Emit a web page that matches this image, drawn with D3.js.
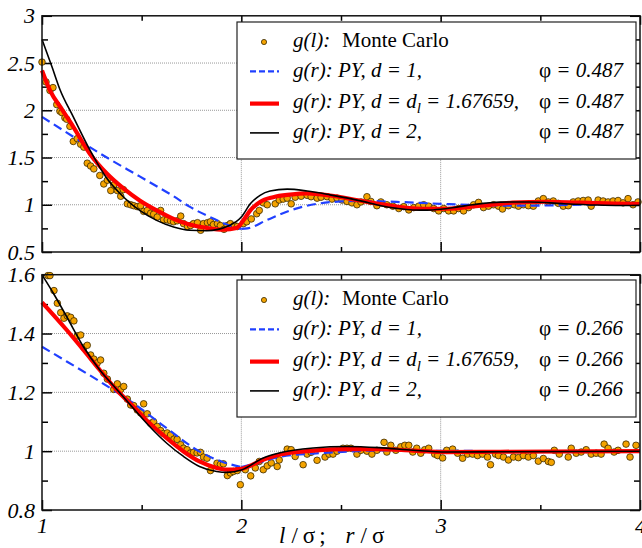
<!DOCTYPE html>
<html>
<head>
<meta charset="utf-8">
<script src="https://cdn.jsdelivr.net/npm/d3@7"></script>
<style>
  body { margin: 0; background: #fff; }
  svg { display: block; }
  svg text { font-family: "Liberation Serif", Tinos, "Times New Roman", "DejaVu Serif", serif; }
</style>
</head>
<body>
<script>
// ticks
var xMajor = [1, 2, 3, 4];
var xMinor = [1.5, 2.5, 3.5];
var yTopMajor = [0.5, 1, 1.5, 2, 2.5, 3];
var yTopMinor = [0.75, 1.25, 1.75, 2.25, 2.75];
var yBotMajor = [0.8, 1, 1.2, 1.4, 1.6];
var yBotMinor = [0.9, 1.1, 1.3, 1.5];
var xGrid = [2, 3];

// legend texts
var phiTop = "0.487";
var phiBot = "0.266";

// ---- top panel, phi = 0.487 ----
var mcTop = [[1.0,2.51],[1.02,2.30],[1.04,2.21],[1.055,2.24],[1.074,2.06],[1.09,1.99],[1.10,1.975],[1.115,1.92],
  [1.124,1.905],[1.14,1.83],[1.157,1.67],[1.177,1.70],[1.194,1.64],[1.21,1.61],[1.227,1.44],[1.244,1.41],
  [1.26,1.38],[1.29,1.31],[1.31,1.22],[1.328,1.26],[1.345,1.15],[1.36,1.21],[1.378,1.15],[1.395,1.09],
  [1.408,1.16],[1.428,1.01],[1.445,1.00],[1.46,0.99],[1.478,0.98],[1.495,0.99],[1.51,0.93],[1.528,0.94],
  [1.545,0.91],[1.56,0.90],[1.578,0.87],[1.595,0.94],[1.61,0.84],[1.628,0.84],[1.645,0.83],[1.66,0.82],
  [1.678,0.83],[1.696,0.88],[1.71,0.80],[1.73,0.77],[1.745,0.78],[1.76,0.80],[1.78,0.81],[1.796,0.73],
  [1.81,0.80],[1.83,0.81],[1.845,0.82],[1.86,0.79],[1.88,0.80],[1.895,0.78],[1.913,0.74],[1.93,0.78],
  [1.945,0.80],[1.965,0.78],[1.98,0.77],[2.01,0.80],[2.027,0.82],[2.05,0.85],[2.077,0.905],[2.09,0.94],
  [2.11,1.02],[2.13,1.0],[2.17,1.01],[2.19,1.05],[2.21,1.06],[2.23,1.07],[2.25,1.01],[2.27,1.08],
  [2.30,1.09],[2.33,1.10],[2.35,1.085],[2.38,1.07],[2.40,1.08],[2.43,1.085],[2.455,1.06],[2.48,1.07],
  [2.505,1.05],[2.53,1.035],[2.555,1.02],[2.58,1.0],[2.60,1.03],[2.63,1.085],[2.65,1.035],[2.68,0.99],
  [2.70,1.03],[2.73,1.0],[2.76,0.985],[2.79,0.96],[2.815,0.98],[2.84,0.945],[2.865,0.97],[2.89,0.985],
  [2.915,1.0],[2.94,0.985],[2.965,0.96],[2.99,0.935],[3.015,0.96],[3.04,0.935],[3.065,0.935],[3.09,0.96],
  [3.115,0.935],[3.14,0.97],[3.165,1.0],[3.19,1.025],[3.215,0.97],[3.24,0.985],[3.265,1.0],[3.29,0.985],
  [3.31,0.955],[3.34,0.99],[3.37,1.0],[3.39,0.985],[3.415,1.0],[3.44,0.99],[3.465,0.985],[3.49,1.04],
  [3.515,1.065],[3.54,1.03],[3.565,1.04],[3.59,1.015],[3.615,0.985],[3.64,0.99],[3.665,1.03],[3.69,1.04],
  [3.715,1.045],[3.74,1.05],[3.755,0.985],[3.79,1.05],[3.815,1.04],[3.84,1.03],[3.865,1.04],[3.89,1.045],
  [3.915,1.02],[3.94,1.065],[3.965,1.0],[3.99,1.03]];

var blueTopIn = [[1,1.93],[1.157,1.72],[1.325,1.50],[1.49,1.30],[1.58,1.19],[1.66,1.09],[1.74,0.98],
  [1.843,0.87],[1.96,0.765],[2.0,0.745]];
var blueTopOut = [[2.0,0.745],[2.03,0.75],[2.13,0.84],[2.245,0.94],[2.38,1.01],[2.5,1.035],[2.61,1.04],
  [2.78,1.03],[3.0,1.01],[3.2,0.995],[3.45,0.99],[3.7,1.0],[4.0,1.0]];
var redTop = [[1,2.42],[1.04,2.21],[1.1,2.01],[1.157,1.825],[1.24,1.54],[1.325,1.33],[1.41,1.17],[1.49,1.045],
  [1.575,0.94],[1.66,0.85],[1.74,0.79],[1.826,0.755],[1.91,0.737],[1.977,0.755],[2.01,0.835],[2.045,0.94],
  [2.094,1.03],[2.16,1.08],[2.244,1.107],[2.33,1.12],[2.445,1.098],[2.61,1.038],[2.78,0.98],[2.9,0.958],
  [3.03,0.958],[3.2,0.99],[3.36,1.022],[3.53,1.032],[3.7,1.022],[3.87,1.012],[4.0,1.008]];
var blackTop = [[1,2.75],[1.05,2.46],[1.09,2.22],[1.157,1.93],[1.24,1.58],[1.325,1.28],[1.41,1.08],[1.49,0.94],
  [1.575,0.835],[1.66,0.765],[1.74,0.73],[1.826,0.725],[1.94,0.78],[2.0,0.87],[2.045,1.01],[2.094,1.10],
  [2.144,1.145],[2.23,1.165],[2.33,1.145],[2.445,1.105],[2.61,1.036],[2.7,0.99],[2.78,0.962],[2.86,0.945],
  [2.93,0.943],[3.0,0.952],[3.08,0.975],[3.16,1.0],[3.3,1.028],[3.45,1.03],[3.61,1.012],[3.78,0.997],
  [3.9,0.992],[4.0,0.993]];

// ---- bottom panel, phi = 0.266 ----
var mcBot = [[1.03,1.597],[1.04,1.597],[1.06,1.546],[1.077,1.503],[1.094,1.471],[1.11,1.452],[1.127,1.46],
  [1.144,1.455],[1.16,1.443],[1.177,1.392],[1.194,1.395],[1.21,1.353],[1.227,1.36],[1.244,1.327],[1.26,1.313],
  [1.277,1.30],[1.294,1.31],[1.31,1.265],[1.328,1.245],[1.36,1.21],[1.378,1.229],[1.395,1.21],[1.41,1.22],
  [1.428,1.177],[1.445,1.157],[1.46,1.155],[1.478,1.14],[1.495,1.13],[1.51,1.161],[1.528,1.127],[1.545,1.095],
  [1.56,1.10],[1.578,1.084],[1.595,1.07],[1.61,1.06],[1.628,1.062],[1.645,1.055],[1.662,1.041],[1.678,1.04],
  [1.696,1.022],[1.71,1.01],[1.728,1.005],[1.745,0.994],[1.76,0.996],[1.778,0.994],[1.795,0.996],[1.81,0.98],
  [1.828,0.976],[1.845,0.934],[1.878,0.959],[1.895,0.955],[1.91,0.957],[1.93,0.917],[1.945,0.926],[1.96,0.931],
  [1.98,0.934],[1.995,0.886],[2.02,0.937],[2.047,0.916],[2.07,0.943],[2.09,0.965],[2.11,0.937],[2.13,0.95],
  [2.15,0.96],[2.18,0.948],[2.19,0.97],[2.23,1.007],[2.25,1.005],[2.27,0.982],[2.31,0.954],[2.33,0.99],
  [2.35,0.996],[2.38,0.969],[2.42,0.98],[2.44,0.99],[2.46,0.99],[2.48,1.0],[2.51,1.01],[2.53,1.01],
  [2.55,1.01],[2.58,0.99],[2.60,1.003],[2.63,1.0],[2.655,0.99],[2.68,1.003],[2.716,1.03],[2.73,0.997],
  [2.75,1.02],[2.775,1.003],[2.80,1.015],[2.82,1.02],[2.84,1.02],[2.86,0.997],[2.88,1.01],[2.90,0.993],
  [2.92,1.005],[2.94,1.01],[2.97,0.99],[2.985,0.985],[3.01,0.977],[3.03,1.003],[3.06,1.007],[3.085,0.993],
  [3.11,0.976],[3.135,0.99],[3.16,0.99],[3.185,0.985],[3.21,0.99],[3.235,0.98],[3.25,0.954],[3.275,0.99],
  [3.29,0.985],[3.315,0.98],[3.34,0.97],[3.365,0.98],[3.39,0.978],[3.415,0.985],[3.44,0.98],[3.465,0.985],
  [3.49,0.966],[3.515,0.975],[3.54,0.965],[3.555,0.962],[3.57,1.003],[3.595,0.99],[3.64,0.98],[3.655,1.01],
  [3.68,0.993],[3.705,0.997],[3.73,1.005],[3.755,0.99],[3.78,0.993],[3.805,0.99],[3.82,1.024],[3.84,1.01],
  [3.87,0.997],[3.89,1.003],[3.93,1.024],[3.95,0.98],[3.98,1.02]];

var blueBotIn = [[1,1.355],[1.124,1.305],[1.29,1.237],[1.458,1.163],[1.626,1.078],[1.79,0.999],[1.9,0.965],[2.0,0.946]];
var blueBotOut = [[2.0,0.946],[2.11,0.965],[2.19,0.98],[2.36,0.992],[2.53,0.998],[2.69,1.003],[3.0,1.001],[4,1.0]];
var redBot = [[1,1.506],[1.124,1.412],[1.208,1.344],[1.29,1.276],[1.375,1.208],[1.458,1.152],[1.54,1.095],
  [1.626,1.044],[1.71,0.999],[1.79,0.965],[1.876,0.943],[1.93,0.937],[2.0,0.94],[2.11,0.971],[2.19,0.988],
  [2.36,1.002],[2.53,1.007],[2.69,1.007],[2.86,1.002],[3.03,0.997],[3.3,0.998],[4,1.0]];
var blackBot = [[1,1.6],[1.057,1.537],[1.124,1.457],[1.208,1.355],[1.29,1.276],[1.375,1.21],[1.458,1.146],
  [1.54,1.084],[1.626,1.027],[1.71,0.982],[1.79,0.948],[1.876,0.931],[1.93,0.928],[2.0,0.936],[2.11,0.977],
  [2.19,0.994],[2.36,1.011],[2.53,1.016],[2.69,1.012],[2.86,1.003],[3.03,0.997],[3.3,0.998],[4,1.0]];

var width = 642, height = 548;
var left = 42, right = 640;
var font = '"Liberation Serif", Tinos, "Times New Roman", "DejaVu Serif", serif';

var svg = d3.select("body").append("svg")
    .attr("width", width)
    .attr("height", height)
    .attr("font-family", font);

var x = d3.scaleLinear().domain([1, 4]).range([left, right]);

function drawPanel(top, bottom, yDomain, yMajor, yMinor, data, phi, legendY, showX) {
    var y = d3.scaleLinear().domain(yDomain).range([bottom, top]);
    var g = svg.append("g");

    // dotted grid
    g.selectAll(".hgrid")
        .data(yMajor.filter(function(d) { return d > yDomain[0] && d < yDomain[1]; }))
        .enter().append("line")
        .attr("x1", left).attr("x2", right)
        .attr("y1", y).attr("y2", y)
        .attr("stroke", "#999").attr("stroke-width", 1)
        .attr("stroke-dasharray", "1,1");
    g.selectAll(".vgrid")
        .data(xGrid)
        .enter().append("line")
        .attr("x1", x).attr("x2", x)
        .attr("y1", top).attr("y2", bottom)
        .attr("stroke", "#999").attr("stroke-width", 1)
        .attr("stroke-dasharray", "1,1");

    // ticks on all four sides, pointing inward
    function ticks(axis, tx, ty, vals, size, fmt) {
        var a = g.append("g")
            .attr("transform", "translate(" + tx + "," + ty + ")")
            .call(axis.tickValues(vals).tickSize(size).tickPadding(7).tickFormat(fmt || ""));
        a.attr("font-family", font);
        a.select(".domain").remove();
        a.selectAll("line").attr("stroke", "#000").attr("stroke-width", 1.5);
        a.selectAll("text")
            .attr("fill", "#000")
            .attr("font-family", font)
            .style("font-size", "22px")
            .style("font-style", "italic");
        return a;
    }
    ticks(d3.axisLeft(y), left, 0, yMajor, -10, d3.format(""));
    ticks(d3.axisLeft(y), left, 0, yMinor, -6);
    ticks(d3.axisRight(y), right, 0, yMajor, -10);
    ticks(d3.axisRight(y), right, 0, yMinor, -6);
    ticks(d3.axisTop(x), 0, top, xMajor, -9);
    ticks(d3.axisTop(x), 0, top, xMinor, -5);
    var xb = ticks(d3.axisBottom(x), 0, bottom, xMajor, -10, showX ? d3.format("d") : null);
    xb.selectAll("text").attr("y", 7);
    ticks(d3.axisBottom(x), 0, bottom, xMinor, -5);

    var line = d3.line()
        .x(function(d) { return x(d[0]); })
        .y(function(d) { return y(d[1]); })
        .curve(d3.curveMonotoneX);

    // monte carlo dots
    g.selectAll(".mc")
        .data(data.mc)
        .enter().append("circle")
        .attr("cx", function(d) { return x(d[0]); })
        .attr("cy", function(d) { return y(d[1]); })
        .attr("r", 3.3)
        .attr("fill", "#f4a300")
        .attr("stroke", "#3a2a00")
        .attr("stroke-width", 0.8);

    // blue has a kink at contact (x=2), two pieces
    [data.blueIn, data.blueOut].forEach(function(b) {
        g.append("path").attr("d", line(b))
            .attr("fill", "none").attr("stroke", "#2040ff")
            .attr("stroke-width", 2.2).attr("stroke-dasharray", "9,5");
    });
    g.append("path").attr("d", line(data.red))
        .attr("fill", "none").attr("stroke", "#ff0000").attr("stroke-width", 4.2);
    g.append("path").attr("d", line(data.black))
        .attr("fill", "none").attr("stroke", "#000").attr("stroke-width", 1.6);

    // frame
    g.append("rect")
        .attr("x", left).attr("y", top)
        .attr("width", right - left).attr("height", bottom - top)
        .attr("fill", "none").attr("stroke", "#111").attr("stroke-width", 1.5);

    // legend
    var lg = g.append("g");
    lg.append("rect")
        .attr("x", 237).attr("y", legendY)
        .attr("width", 399).attr("height", 137)
        .attr("fill", "#fff").attr("stroke", "#222").attr("stroke-width", 1.2);

    var base = legendY + 25, step = 30.3;
    // row 1 : dot
    lg.append("circle").attr("cx", 264).attr("cy", base - 5).attr("r", 2.6)
        .attr("fill", "#f4a300").attr("stroke", "#3a2a00").attr("stroke-width", 0.8);
    // rows 2..4 : lines
    lg.append("line").attr("x1", 250).attr("x2", 279)
        .attr("y1", base + step - 6).attr("y2", base + step - 6)
        .attr("stroke", "#2040ff").attr("stroke-width", 2.2).attr("stroke-dasharray", "6,3");
    lg.append("line").attr("x1", 250).attr("x2", 279)
        .attr("y1", base + 2 * step - 4).attr("y2", base + 2 * step - 4)
        .attr("stroke", "#ff0000").attr("stroke-width", 4.2);
    lg.append("line").attr("x1", 250).attr("x2", 279)
        .attr("y1", base + 3 * step - 5).attr("y2", base + 3 * step - 5)
        .attr("stroke", "#000").attr("stroke-width", 1.6);

    function txt(yy) {
        return lg.append("text").attr("x", 293).attr("y", yy)
            .attr("font-family", font)
            .style("font-size", "21px").attr("fill", "#000");
    }
    var t1 = txt(base);
    t1.append("tspan").style("font-style", "italic").text("g(l):");
    t1.append("tspan").attr("x", 342).text("Monte Carlo");

    txt(base + step).style("font-style", "italic").text("g(r): PY, d = 1,");

    var t3 = txt(base + 2 * step).style("font-style", "italic");
    t3.append("tspan").text("g(r): PY, d = d");
    t3.append("tspan").attr("dy", 5).style("font-size", "15px").text("l");
    t3.append("tspan").attr("dy", -5).text(" = 1.67659,");

    txt(base + 3 * step).style("font-style", "italic").text("g(r): PY, d = 2,");

    for (var i = 1; i < 4; i++) {
        var p = lg.append("text").attr("x", 623).attr("y", base + i * step)
            .attr("font-family", font)
            .attr("text-anchor", "end").style("font-size", "21px").attr("fill", "#000");
        p.append("tspan").text("\u03c6");
        p.append("tspan").style("font-style", "italic").text(" = " + phi);
    }
}

drawPanel(15.8, 252, [0.5, 3], yTopMajor, yTopMinor,
    {mc: mcTop, blueIn: blueTopIn, blueOut: blueTopOut, red: redTop, black: blackTop},
    phiTop, 22, false);
drawPanel(274.7, 510, [0.8, 1.6], yBotMajor, yBotMinor,
    {mc: mcBot, blueIn: blueBotIn, blueOut: blueBotOut, red: redBot, black: blackBot},
    phiBot, 280, true);

// x axis title, pieces placed by hand so the wide gaps survive
var xt = svg.append("text")
    .attr("x", 279).attr("y", 543)
    .attr("font-family", font)
    .style("font-size", "23px").attr("fill", "#000");
xt.append("tspan").style("font-style", "italic").text("l");
xt.append("tspan").attr("dx", 6).text("/");
xt.append("tspan").attr("dx", 5).text("\u03c3");
xt.append("tspan").attr("dx", 4).text(";");
xt.append("tspan").attr("dx", 20).style("font-style", "italic").text("r");
xt.append("tspan").attr("dx", 6).text("/");
xt.append("tspan").attr("dx", 5).text("\u03c3");
</script>
</body>
</html>
